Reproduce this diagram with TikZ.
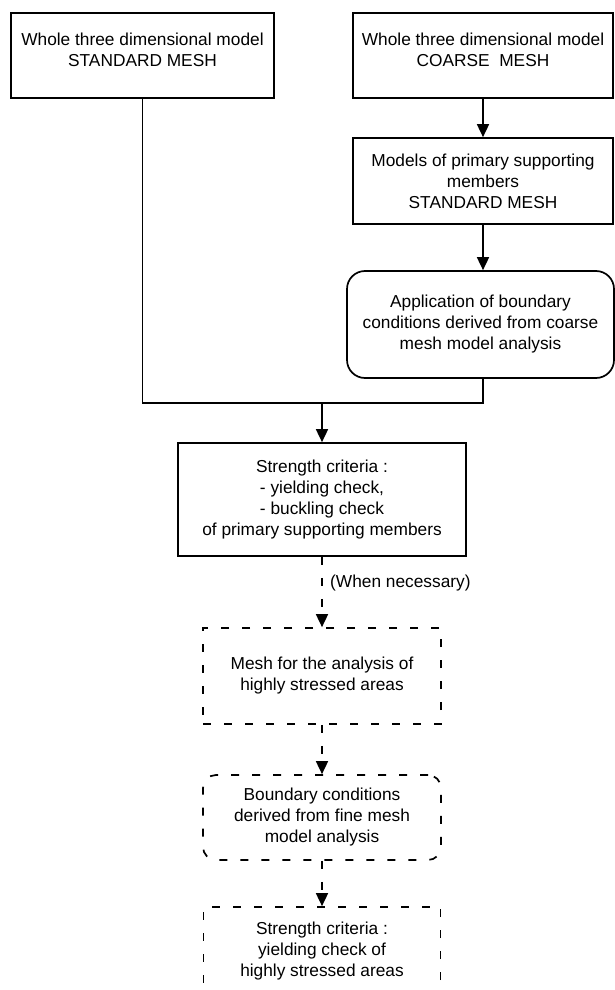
\documentclass[tikz,border=0pt]{standalone}
\usepackage{fontspec}
\setmainfont{Liberation Sans}
\usetikzlibrary{arrows.meta}
\begin{document}
\begin{tikzpicture}[x=1pt,y=-1pt,
  every node/.style={font=\fontsize{17.3}{21}\selectfont, align=center, inner sep=0pt},
  solidbox/.style={draw, line width=1.7pt},
  dashbox/.style={draw, line width=1.7pt, dash pattern=on 8pt off 13pt},
  ln/.style={line width=1.7pt},
  dln/.style={line width=1.7pt, dash pattern=on 8pt off 13pt},
  arr/.style={-{Triangle[length=13pt,width=12pt]}}
]
\useasboundingbox (0,0) rectangle (615,990);
\clip (0,0) rectangle (615,990);
\fill[white] (0,0) rectangle (615,990);

\node[solidbox, minimum width=263pt, minimum height=85pt, text depth=12pt] (b1) at (142.5,55.5)
  {Whole three dimensional model\\STANDARD MESH};
\node[solidbox, minimum width=260pt, minimum height=85pt, text depth=12pt] (b2) at (483,55.5)
  {Whole three dimensional model\\COARSE\ \ MESH};
\node[solidbox, minimum width=260pt, minimum height=86pt] (b3) at (483,181)
  {Models of primary supporting\\members\\STANDARD MESH};
\node[solidbox, rounded corners=18pt, minimum width=267pt, minimum height=107pt] (b4) at (480.5,324.5)
  {Application of boundary\\conditions derived from coarse\\mesh model analysis};
\node[solidbox, minimum width=288pt, minimum height=113pt] (b5) at (322,499.5)
  {Strength criteria :\\- yielding check,\\- buckling check\\of primary supporting members};
\node[dashbox, minimum width=238pt, minimum height=96pt] (b6) at (322,676)
  {Mesh for the analysis of\\highly stressed areas};
\node[dashbox, rounded corners=13pt, minimum width=238pt, minimum height=85pt] (b7) at (322,817.5)
  {Boundary conditions\\derived from fine mesh\\model analysis};
\node[dashbox, minimum width=237pt, minimum height=88pt] (b8) at (322,951)
  {Strength criteria :\\yielding check of\\highly stressed areas};
\node[anchor=west] (wn) at (330,583) {(When necessary)};

\coordinate (jn) at (322,403);

\draw[ln, arr] (b2.south) -- (b3.north);
\draw[ln, arr] (b3.south) -- (b3.south |- b4.north);
\draw[ln] (b1.south) |- (jn);
\draw[ln] (b3.south |- b4.south) |- (jn);
\draw[ln, arr] (jn) -- (b5.north);
\draw[dln, arr] (b5.south) -- (b6.north);
\draw[dln, arr] (b6.south) -- (b7.north);
\draw[dln, arr] (b7.south) -- (b8.north);
\end{tikzpicture}
\end{document}
